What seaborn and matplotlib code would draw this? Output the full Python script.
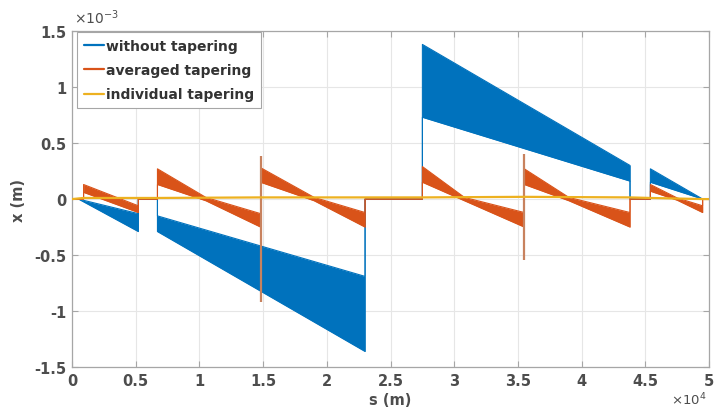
import numpy as np
import pandas as pd
import matplotlib
matplotlib.use("Agg")
import matplotlib.pyplot as plt
import seaborn as sns
from matplotlib.lines import Line2D
from matplotlib.ticker import FixedLocator, FuncFormatter

# ---------------- data (s in units of 1e4 m, x in units of 1e-3 m) ----------------
series_names = ["without tapering", "averaged tapering", "individual tapering"]
series_colors = ["#0072BD", "#D95319", "#EDB120"]

# without tapering: envelope of the oscillation band
s_blue = [0.0, 0.05, 0.52, 0.52, 0.67, 0.67, 2.30, 2.30, 2.75, 2.75, 4.38, 4.38, 4.54, 4.54, 4.95, 5.0]
blue_upper = [0.0, 0.0, -0.13, 0.0, 0.0, -0.15, -0.69, 0.0, 0.0, 1.38, 0.30, 0.0, 0.0, 0.27, 0.0, 0.0]
blue_lower = [0.0, 0.0, -0.29, 0.0, 0.0, -0.29, -1.36, 0.0, 0.0, 0.73, 0.16, 0.0, 0.0, 0.15, 0.0, 0.0]

# averaged tapering: envelope of the oscillation band
s_red = [0.0, 0.09, 0.09, 0.52, 0.52, 0.67, 0.67, 1.05, 1.48, 1.48, 1.90, 2.30, 2.30,
         2.75, 2.75, 3.08, 3.55, 3.55, 3.90, 4.38, 4.38, 4.54, 4.54, 4.75, 4.95, 4.95, 5.0]
red_upper = [0.0, 0.0, 0.13, -0.06, 0.0, 0.0, 0.27, 0.015, -0.13, 0.28, 0.015, -0.12, 0.0,
             0.0, 0.29, 0.015, -0.12, 0.27, 0.015, -0.12, 0.0, 0.0, 0.13, 0.01, -0.06, 0.0, 0.0]
red_lower = [0.0, 0.0, 0.06, -0.12, 0.0, 0.0, 0.13, -0.015, -0.25, 0.15, -0.015, -0.25, 0.0,
             0.0, 0.15, -0.015, -0.25, 0.13, -0.015, -0.25, 0.0, 0.0, 0.07, -0.01, -0.12, 0.0, 0.0]
# spikes at the mid-arc tapering points
s_spike = [1.48, 3.55]
spike_low = [-0.92, -0.54]
spike_high = [0.38, 0.40]

# individual tapering
s_ind = [0.0, 0.09, 0.52, 0.67, 1.48, 2.30, 2.75, 3.55, 4.38, 4.54, 4.95, 5.0]
x_ind = [0.0, 0.01, 0.01, 0.01, 0.015, 0.015, 0.015, 0.02, 0.015, 0.01, 0.0, 0.0]

x_ticks = [0, 0.5, 1, 1.5, 2, 2.5, 3, 3.5, 4, 4.5, 5]
y_ticks = [-1.5, -1, -0.5, 0, 0.5, 1, 1.5]

# ---------------- figure ----------------
sns.set_theme(style="white")
plt.rcParams["font.family"] = ["DejaVu Sans"]

fig = plt.figure(figsize=(7.14, 4.10), dpi=100)
ax = fig.add_axes([0.101, 0.102, 0.892, 0.820])

# bands
ax.fill_between(s_blue, blue_lower, blue_upper, color=series_colors[0], linewidth=0, zorder=2)
for yv in [blue_upper, blue_lower]:
    sns.lineplot(x=s_blue, y=yv, ax=ax, color=series_colors[0], linewidth=0.8,
                 estimator=None, sort=False, zorder=2)

ax.fill_between(s_red, red_lower, red_upper, color=series_colors[1], linewidth=0, zorder=3)
for yv in [red_upper, red_lower]:
    sns.lineplot(x=s_red, y=yv, ax=ax, color=series_colors[1], linewidth=0.8,
                 estimator=None, sort=False, zorder=3)
ax.vlines(s_spike, spike_low, spike_high, color="#C8825E", linewidth=1.6, zorder=3)

sns.lineplot(x=s_ind, y=x_ind, ax=ax, color=series_colors[2], linewidth=1.6,
             estimator=None, sort=False, zorder=4)

# axes styling (MATLAB-like)
ax.set_xlim(0, 5)
ax.set_ylim(-1.5, 1.5)
ax.xaxis.set_major_locator(FixedLocator(x_ticks))
ax.yaxis.set_major_locator(FixedLocator(y_ticks))
fmt = FuncFormatter(lambda v, p: ("%g" % v))
ax.xaxis.set_major_formatter(fmt)
ax.yaxis.set_major_formatter(fmt)
ax.grid(True, color="#E6E6E6", linewidth=0.8, zorder=0)
ax.set_axisbelow(True)
for sp in ax.spines.values():
    sp.set_color("#A6A6A6")
    sp.set_linewidth(0.9)
ax.tick_params(direction="in", length=4, width=0.8, color="#A6A6A6",
               top=True, right=True, bottom=True, left=True,
               labelsize=10.5, labelcolor="#4D4D4D", pad=4)
for lab in ax.get_xticklabels() + ax.get_yticklabels():
    lab.set_fontweight("bold")

ax.set_xlabel("s (m)", fontsize=10.5, fontweight="bold", color="#4D4D4D", labelpad=3)
ax.set_ylabel("x (m)", fontsize=10.5, fontweight="bold", color="#4D4D4D", labelpad=6)

fig.text(0.104, 0.935, r"$\times10^{-3}$", fontsize=10, color="#4D4D4D", ha="left", va="bottom")
fig.text(0.940, 0.004, r"$\times10^{4}$", fontsize=9.5, color="#4D4D4D", ha="left", va="bottom")

handles = [Line2D([0], [0], color=c, linewidth=1.6) for c in series_colors]
leg = ax.legend(handles, series_names, loc="upper left", bbox_to_anchor=(0.008, 0.998),
                frameon=True, fancybox=False, framealpha=1, edgecolor="#A6A6A6",
                prop={"size": 10, "weight": "bold"}, handlelength=1.4, handletextpad=0.2,
                labelspacing=0.75, borderpad=0.5, borderaxespad=0)
leg.get_frame().set_linewidth(0.8)
for t in leg.get_texts():
    t.set_color("#333333")

fig.savefig("out.png", dpi=100)
